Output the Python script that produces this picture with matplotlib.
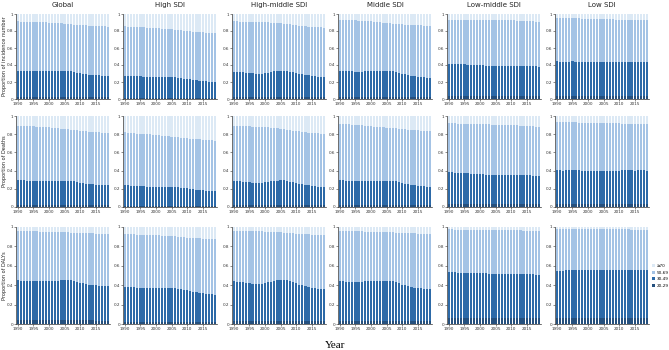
import matplotlib
matplotlib.use("Agg")
import matplotlib.pyplot as plt
import numpy as np

years = list(range(1990, 2020))
regions = ["Global", "High SDI", "High-middle SDI", "Middle SDI", "Low-middle SDI", "Low SDI"]
row_labels = ["Proportion of incidence number", "Proportion of Deaths", "Proportion of DALYs"]
age_groups = ["20-29", "30-49", "50-69", "\u226570"]
xtick_years = [1990, 1995, 2000, 2005, 2010, 2015]

# ---------- Incidence ----------
inc_global_u30 = [.022,.022,.022,.022,.022,.022,.022,.022,.022,.022,.022,.022,.022,.022,.022,.022,.022,.021,.021,.021,.021,.021,.021,.021,.020,.020,.020,.020,.020,.020]
inc_global_u50 = [.335,.334,.332,.330,.328,.327,.326,.325,.325,.325,.325,.326,.327,.328,.329,.330,.329,.325,.318,.310,.302,.298,.293,.288,.284,.280,.277,.274,.272,.270]
inc_global_u70 = [.912,.911,.910,.908,.906,.905,.904,.903,.902,.901,.900,.898,.896,.893,.890,.887,.883,.879,.876,.873,.870,.868,.866,.864,.862,.860,.858,.856,.854,.852]

inc_high_u30 = [.015,.015,.015,.015,.015,.015,.015,.015,.015,.015,.015,.015,.015,.015,.015,.015,.015,.015,.015,.015,.015,.015,.015,.015,.015,.015,.015,.015,.015,.015]
inc_high_u50 = [.275,.272,.270,.268,.266,.265,.264,.263,.262,.261,.260,.259,.258,.257,.256,.255,.254,.250,.245,.240,.235,.230,.225,.220,.216,.212,.208,.205,.202,.199]
inc_high_u70 = [.853,.850,.848,.846,.844,.843,.842,.840,.838,.836,.834,.831,.828,.825,.822,.819,.816,.812,.808,.804,.800,.797,.794,.791,.788,.785,.782,.779,.776,.773]

inc_hm_u30 = [.020,.020,.020,.020,.020,.020,.020,.020,.020,.020,.020,.020,.020,.020,.020,.020,.020,.020,.020,.020,.020,.020,.020,.020,.020,.020,.020,.020,.020,.020]
inc_hm_u50 = [.322,.320,.318,.315,.311,.307,.303,.300,.299,.300,.303,.310,.318,.325,.330,.333,.334,.330,.323,.315,.307,.300,.293,.285,.278,.272,.266,.261,.257,.253]
inc_hm_u70 = [.912,.912,.911,.911,.910,.910,.909,.908,.907,.906,.905,.903,.900,.897,.893,.889,.885,.881,.877,.872,.867,.863,.859,.855,.852,.849,.846,.844,.842,.840]

inc_mid_u30 = [.022,.022,.022,.022,.022,.022,.022,.022,.022,.022,.022,.022,.022,.022,.022,.022,.022,.022,.022,.022,.022,.022,.022,.022,.022,.022,.022,.022,.022,.022]
inc_mid_u50 = [.333,.330,.327,.325,.324,.323,.323,.323,.324,.325,.326,.327,.328,.329,.330,.332,.333,.330,.322,.310,.298,.290,.283,.275,.268,.262,.257,.253,.250,.248]
inc_mid_u70 = [.935,.933,.931,.929,.927,.925,.923,.921,.918,.915,.912,.909,.905,.901,.897,.893,.890,.887,.884,.881,.878,.876,.874,.872,.870,.868,.866,.864,.862,.860]

inc_lm_u30 = [.035,.035,.035,.035,.035,.035,.035,.035,.035,.035,.035,.035,.035,.035,.035,.035,.035,.035,.035,.035,.035,.035,.035,.035,.035,.035,.035,.035,.035,.035]
inc_lm_u50 = [.415,.414,.413,.412,.410,.408,.405,.402,.400,.398,.396,.395,.394,.393,.393,.393,.393,.393,.393,.393,.393,.393,.393,.392,.391,.390,.388,.386,.384,.382]
inc_lm_u70 = [.935,.934,.934,.933,.933,.932,.932,.931,.931,.930,.930,.929,.929,.928,.928,.927,.927,.926,.926,.925,.925,.924,.922,.920,.918,.916,.914,.912,.911,.910]

inc_low_u30 = [.035,.035,.035,.035,.035,.035,.035,.035,.035,.035,.035,.035,.035,.035,.035,.035,.035,.035,.035,.035,.035,.035,.035,.035,.035,.035,.035,.035,.035,.035]
inc_low_u50 = [.445,.440,.437,.437,.440,.442,.440,.437,.435,.434,.433,.432,.432,.432,.432,.432,.433,.434,.433,.432,.432,.433,.434,.433,.432,.432,.432,.433,.432,.432]
inc_low_u70 = [.952,.952,.951,.951,.950,.950,.949,.948,.946,.944,.942,.941,.940,.939,.938,.937,.937,.936,.936,.935,.935,.934,.934,.933,.933,.932,.932,.931,.931,.930]

# ---------- Deaths ----------
dth_global_u30 = [.025,.025,.025,.025,.025,.025,.025,.025,.025,.025,.025,.025,.025,.025,.025,.025,.025,.024,.024,.024,.024,.024,.024,.024,.023,.023,.023,.023,.023,.023]
dth_global_u50 = [.295,.294,.292,.290,.288,.286,.285,.284,.283,.283,.283,.284,.285,.286,.287,.288,.288,.286,.281,.275,.268,.263,.258,.253,.249,.246,.243,.241,.240,.239]
dth_global_u70 = [.895,.893,.891,.889,.887,.885,.883,.881,.879,.877,.875,.872,.869,.866,.862,.858,.854,.850,.846,.842,.838,.835,.832,.829,.826,.823,.820,.818,.816,.814]

dth_high_u30 = [.015,.015,.015,.015,.015,.015,.015,.015,.015,.015,.015,.015,.015,.015,.015,.015,.015,.015,.015,.015,.015,.015,.015,.015,.015,.015,.015,.015,.015,.015]
dth_high_u50 = [.240,.237,.234,.231,.229,.227,.226,.225,.224,.223,.222,.221,.221,.220,.220,.220,.219,.217,.214,.210,.205,.200,.196,.192,.188,.184,.181,.178,.176,.174]
dth_high_u70 = [.822,.818,.814,.810,.807,.805,.803,.801,.799,.796,.792,.788,.784,.780,.776,.772,.768,.764,.760,.757,.754,.751,.748,.745,.742,.739,.736,.734,.732,.730]

dth_hm_u30 = [.020,.020,.020,.020,.020,.020,.020,.020,.020,.020,.020,.020,.020,.020,.020,.020,.020,.020,.020,.020,.020,.020,.020,.020,.020,.020,.020,.020,.020,.020]
dth_hm_u50 = [.290,.287,.284,.280,.276,.271,.267,.264,.263,.265,.270,.276,.282,.287,.290,.292,.292,.288,.280,.272,.264,.257,.250,.243,.237,.232,.228,.225,.222,.220]
dth_hm_u70 = [.890,.889,.888,.887,.886,.885,.884,.883,.882,.880,.878,.875,.872,.869,.865,.860,.855,.850,.845,.840,.835,.830,.826,.822,.818,.815,.812,.809,.806,.804]

dth_mid_u30 = [.022,.022,.022,.022,.022,.022,.022,.022,.022,.022,.022,.022,.022,.022,.022,.022,.022,.022,.022,.022,.022,.022,.022,.022,.022,.022,.022,.022,.022,.022]
dth_mid_u50 = [.295,.292,.289,.286,.284,.283,.283,.283,.283,.284,.285,.286,.287,.288,.288,.288,.288,.287,.282,.274,.265,.257,.250,.244,.238,.233,.229,.226,.224,.222]
dth_mid_u70 = [.915,.913,.911,.908,.905,.902,.899,.896,.893,.890,.887,.884,.881,.878,.875,.872,.869,.866,.863,.860,.857,.854,.851,.848,.845,.842,.839,.836,.833,.830]

dth_lm_u30 = [.030,.030,.030,.030,.030,.030,.030,.030,.030,.030,.030,.030,.030,.030,.030,.030,.030,.030,.030,.030,.030,.030,.030,.030,.030,.030,.030,.030,.030,.030]
dth_lm_u50 = [.385,.382,.378,.375,.373,.371,.369,.367,.365,.363,.361,.359,.357,.356,.355,.354,.353,.353,.353,.353,.353,.352,.351,.350,.349,.348,.347,.346,.345,.344]
dth_lm_u70 = [.920,.919,.918,.917,.916,.915,.914,.913,.912,.911,.910,.909,.908,.907,.906,.905,.904,.903,.902,.901,.900,.898,.896,.894,.892,.890,.888,.886,.884,.882]

dth_low_u30 = [.030,.030,.030,.030,.030,.030,.030,.030,.030,.030,.030,.030,.030,.030,.030,.030,.030,.030,.030,.030,.030,.030,.030,.030,.030,.030,.030,.030,.030,.030]
dth_low_u50 = [.405,.403,.401,.402,.404,.405,.404,.402,.401,.400,.400,.400,.399,.398,.398,.398,.398,.397,.398,.399,.401,.403,.404,.403,.402,.401,.402,.403,.402,.401]
dth_low_u70 = [.935,.934,.933,.932,.931,.930,.929,.928,.927,.926,.925,.924,.923,.922,.921,.920,.920,.919,.919,.918,.918,.917,.917,.916,.916,.915,.915,.914,.914,.913]

# ---------- DALYs ----------
daly_global_u30 = [.040,.040,.040,.040,.040,.040,.040,.040,.040,.040,.040,.040,.040,.040,.040,.040,.039,.039,.039,.038,.038,.038,.037,.037,.037,.036,.036,.036,.035,.035]
daly_global_u50 = [.450,.448,.446,.444,.442,.441,.441,.441,.441,.442,.443,.444,.446,.448,.450,.452,.454,.451,.443,.434,.426,.419,.413,.407,.402,.398,.395,.392,.390,.389]
daly_global_u70 = [.960,.959,.958,.957,.956,.955,.954,.953,.952,.951,.950,.949,.948,.947,.946,.945,.944,.943,.942,.941,.940,.939,.937,.935,.933,.931,.930,.929,.928,.927]

daly_high_u30 = [.020,.020,.020,.020,.020,.020,.020,.020,.020,.020,.020,.020,.020,.020,.020,.020,.020,.020,.020,.020,.020,.020,.020,.020,.020,.020,.020,.020,.020,.020]
daly_high_u50 = [.385,.382,.379,.377,.375,.374,.373,.372,.372,.371,.371,.370,.370,.369,.368,.367,.366,.362,.357,.352,.346,.340,.334,.328,.322,.317,.313,.310,.307,.304]
daly_high_u70 = [.930,.928,.926,.924,.922,.921,.920,.919,.918,.917,.915,.913,.911,.909,.907,.905,.903,.900,.897,.894,.891,.889,.887,.885,.883,.881,.880,.879,.878,.877]

daly_hm_u30 = [.032,.032,.032,.032,.032,.032,.032,.032,.032,.032,.032,.032,.032,.032,.032,.032,.031,.031,.031,.030,.030,.030,.030,.030,.030,.030,.030,.030,.030,.030]
daly_hm_u50 = [.440,.438,.435,.431,.427,.422,.417,.413,.412,.415,.420,.428,.437,.445,.452,.457,.458,.452,.442,.430,.418,.407,.397,.388,.380,.374,.369,.365,.361,.358]
daly_hm_u70 = [.962,.961,.960,.960,.959,.958,.957,.956,.955,.954,.953,.952,.951,.949,.947,.945,.943,.940,.937,.934,.931,.929,.927,.925,.923,.921,.920,.919,.918,.917]

daly_mid_u30 = [.035,.035,.035,.035,.035,.035,.035,.035,.035,.035,.035,.035,.035,.035,.035,.035,.034,.034,.033,.032,.031,.030,.030,.029,.029,.028,.028,.028,.028,.028]
daly_mid_u50 = [.440,.439,.438,.437,.437,.437,.437,.438,.439,.440,.441,.442,.443,.444,.444,.444,.443,.440,.430,.418,.407,.398,.390,.383,.376,.370,.366,.363,.361,.360]
daly_mid_u70 = [.960,.960,.959,.958,.957,.956,.955,.954,.953,.952,.951,.950,.949,.948,.947,.946,.945,.944,.943,.942,.941,.940,.938,.936,.934,.932,.931,.930,.929,.928]

daly_lm_u30 = [.065,.065,.065,.065,.065,.066,.066,.066,.066,.066,.066,.066,.066,.066,.066,.065,.065,.065,.065,.064,.064,.064,.063,.063,.062,.062,.062,.061,.061,.061]
daly_lm_u50 = [.540,.535,.532,.530,.529,.528,.527,.526,.525,.524,.523,.522,.521,.520,.519,.518,.517,.516,.516,.516,.516,.516,.516,.515,.514,.513,.512,.511,.510,.509]
daly_lm_u70 = [.975,.975,.974,.974,.973,.973,.972,.972,.971,.971,.970,.970,.969,.969,.968,.968,.967,.967,.966,.966,.965,.965,.964,.964,.963,.963,.962,.962,.961,.961]

daly_low_u30 = [.065,.065,.065,.065,.065,.065,.065,.065,.065,.065,.065,.065,.065,.065,.065,.065,.065,.065,.065,.065,.065,.065,.065,.065,.065,.065,.065,.065,.065,.065]
daly_low_u50 = [.550,.550,.551,.552,.553,.554,.555,.556,.556,.556,.555,.555,.556,.557,.558,.558,.557,.556,.557,.558,.559,.559,.559,.559,.559,.560,.560,.560,.560,.560]
daly_low_u70 = [.980,.980,.980,.980,.979,.979,.979,.979,.978,.978,.978,.978,.977,.977,.977,.977,.976,.976,.976,.976,.975,.975,.975,.975,.974,.974,.974,.974,.973,.973]

panels = [
    [(inc_global_u30, inc_global_u50, inc_global_u70), (inc_high_u30, inc_high_u50, inc_high_u70),
     (inc_hm_u30, inc_hm_u50, inc_hm_u70), (inc_mid_u30, inc_mid_u50, inc_mid_u70),
     (inc_lm_u30, inc_lm_u50, inc_lm_u70), (inc_low_u30, inc_low_u50, inc_low_u70)],
    [(dth_global_u30, dth_global_u50, dth_global_u70), (dth_high_u30, dth_high_u50, dth_high_u70),
     (dth_hm_u30, dth_hm_u50, dth_hm_u70), (dth_mid_u30, dth_mid_u50, dth_mid_u70),
     (dth_lm_u30, dth_lm_u50, dth_lm_u70), (dth_low_u30, dth_low_u50, dth_low_u70)],
    [(daly_global_u30, daly_global_u50, daly_global_u70), (daly_high_u30, daly_high_u50, daly_high_u70),
     (daly_hm_u30, daly_hm_u50, daly_hm_u70), (daly_mid_u30, daly_mid_u50, daly_mid_u70),
     (daly_lm_u30, daly_lm_u50, daly_lm_u70), (daly_low_u30, daly_low_u50, daly_low_u70)],
]

colors = ["#25507e", "#2d6aa8", "#a4c3e5", "#dce9f5"]

W, H = 669, 350
fig = plt.figure(figsize=(W / 100, H / 100), dpi=100)

col_left = [16, 123, 232, 338, 447, 555]
col_w = 94
row_bottom = [99, 207, 324]
row_h = [85, 91, 97]

yrs = np.array(years)
for r in range(3):
    for c in range(6):
        u30, u50, u70 = [np.array(v) for v in panels[r][c]]
        ax = fig.add_axes([col_left[c] / W, 1 - row_bottom[r] / H, col_w / W, row_h[r] / H])
        segs = [u30, u50 - u30, u70 - u50, 1 - u70]
        bottom = np.zeros(len(years))
        for k, s in enumerate(segs):
            ax.bar(yrs, s, bottom=bottom, width=0.74, color=colors[k], linewidth=0,
                   label=age_groups[k])
            bottom = bottom + s
        ax.set_xlim(1989.4, 2019.6)
        ax.set_ylim(0, 1)
        ax.set_yticks([0, 0.2, 0.4, 0.6, 0.8, 1.0])
        ax.set_yticklabels(["0", "0.2", "0.4", "0.6", "0.8", "1"])
        ax.set_xticks(xtick_years)
        ax.set_xticklabels([str(y) for y in xtick_years])
        ax.tick_params(labelsize=3, length=1.2, width=0.4, pad=1, colors="#333333")
        for sp in ["top", "right"]:
            ax.spines[sp].set_visible(False)
        for sp in ["left", "bottom"]:
            ax.spines[sp].set_linewidth(0.5)
            ax.spines[sp].set_color("#333333")
        if r == 0:
            ax.set_title(regions[c], fontsize=5, pad=5, color="#222222")
        if c == 0:
            fig.text(5 / W, 1 - (row_bottom[r] - row_h[r] / 2) / H, row_labels[r],
                     rotation=90, ha="center", va="center", fontsize=3.6, color="#222222")
        if r == 2 and c == 5:
            handles, labels = ax.get_legend_handles_labels()
            fig.legend(handles[::-1], labels[::-1], loc="center left",
                       bbox_to_anchor=(650 / W, 1 - 276 / H), frameon=False,
                       fontsize=3, handlelength=0.7, handleheight=0.7,
                       handletextpad=0.4, labelspacing=0.6, borderpad=0)

fig.text(335 / W, 1 - 345 / H, "Year", ha="center", va="center",
         fontsize=8, family="Liberation Serif")

fig.savefig("out.png", dpi=100)
